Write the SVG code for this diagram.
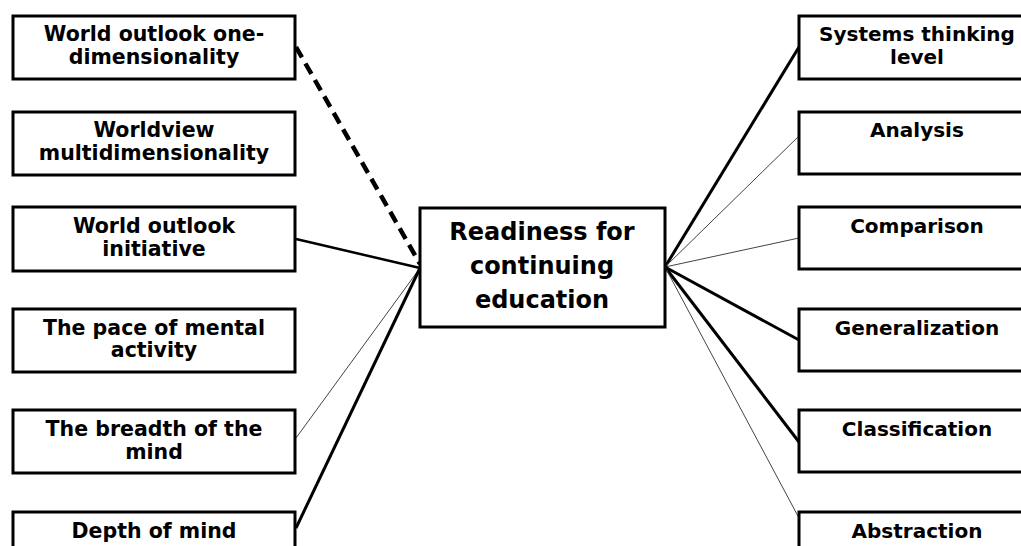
<svg xmlns="http://www.w3.org/2000/svg" width="1021" height="546" viewBox="0 0 1021 546">
<style>
.box{fill:#fff;stroke:#000;stroke-width:3}
.t{font-family:"DejaVu Sans","Noto Sans",sans-serif;font-weight:bold;font-size:20.5px;fill:#000;text-anchor:middle}
.r{font-size:20px}
.c{font-size:24px}
.thick{stroke:#000;stroke-width:3;fill:none}
.med{stroke:#000;stroke-width:2.5;fill:none}
.thin{stroke:#444;stroke-width:1;fill:none}
.dash{stroke:#000;stroke-width:4.5;stroke-dasharray:12 7;fill:none}
</style>
<rect width="1021" height="546" fill="#fff"/>
<g id="connectors">
<line class="dash" x1="296" y1="47" x2="420" y2="264"/>
<line class="med" x1="296" y1="239" x2="420" y2="268"/>
<line class="thin" x1="296" y1="438" x2="420" y2="268"/>
<line class="thick" x1="296" y1="528" x2="420" y2="268"/>
<line class="thick" x1="665" y1="267" x2="799" y2="47"/>
<line class="thin" x1="665" y1="267" x2="799" y2="136"/>
<line class="thin" x1="665" y1="267" x2="799" y2="238"/>
<line class="thick" x1="665" y1="267" x2="799" y2="340"/>
<line class="thick" x1="665" y1="267" x2="799" y2="442"/>
<line class="thin" x1="665" y1="267" x2="799" y2="518"/>
</g>
<g id="center">
<rect class="box" x="420" y="208" width="245" height="119"/>
<text class="t c" x="542" y="240">Readiness for</text>
<text class="t c" x="542" y="274">continuing</text>
<text class="t c" x="542" y="308">education</text>
</g>
<g id="l1"><rect class="box" x="13" y="16" width="282" height="63"/>
<text class="t" x="154" y="41">World outlook one-</text><text class="t" x="154" y="64">dimensionality</text></g>
<g id="l2"><rect class="box" x="13" y="112" width="282" height="63"/>
<text class="t" x="154" y="137">Worldview</text><text class="t" x="154" y="160">multidimensionality</text></g>
<g id="l3"><rect class="box" x="13" y="207" width="282" height="64"/>
<text class="t" x="154" y="233">World outlook</text><text class="t" x="154" y="256">initiative</text></g>
<g id="l4"><rect class="box" x="13" y="309" width="282" height="63"/>
<text class="t" x="154" y="335">The pace of mental</text><text class="t" x="154" y="357">activity</text></g>
<g id="l5"><rect class="box" x="13" y="410" width="282" height="63"/>
<text class="t" x="154" y="436">The breadth of the</text><text class="t" x="154" y="459">mind</text></g>
<g id="l6"><rect class="box" x="13" y="512" width="282" height="63"/>
<text class="t" x="154" y="538">Depth of mind</text></g>
<g id="r1"><rect class="box" x="799" y="16" width="236" height="63"/>
<text class="t r" x="917" y="41">Systems thinking</text><text class="t r" x="917" y="64">level</text></g>
<g id="r2"><rect class="box" x="799" y="112" width="236" height="62"/>
<text class="t r" x="917" y="137">Analysis</text></g>
<g id="r3"><rect class="box" x="799" y="207" width="236" height="62"/>
<text class="t r" x="917" y="233">Comparison</text></g>
<g id="r4"><rect class="box" x="799" y="309" width="236" height="62"/>
<text class="t r" x="917" y="335">Generalization</text></g>
<g id="r5"><rect class="box" x="799" y="410" width="236" height="62"/>
<text class="t r" x="917" y="436">Classification</text></g>
<g id="r6"><rect class="box" x="799" y="512" width="236" height="62"/>
<text class="t r" x="917" y="538">Abstraction</text></g>
</svg>
